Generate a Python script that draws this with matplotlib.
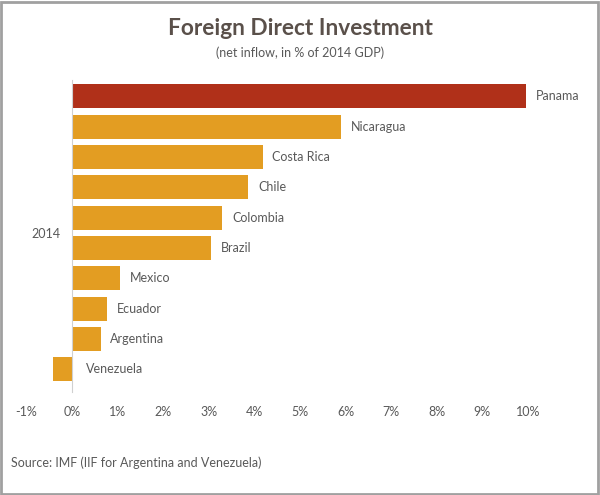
import matplotlib.pyplot as plt
from matplotlib.patches import Rectangle

# data
countries = ['Panama', 'Nicaragua', 'Costa Rica', 'Chile', 'Colombia',
             'Brazil', 'Mexico', 'Ecuador', 'Argentina', 'Venezuela']
fdi = [9.95, 5.9, 4.18, 3.87, 3.3, 3.05, 1.05, 0.77, 0.63, -0.42]
xticks = list(range(-1, 11))
xlabels = ['%d%%' % t for t in xticks]

plt.rcParams['font.family'] = ['Lato', 'DejaVu Sans']
txt = '#595959'
colors = ['#B03019'] + ['#E39D22'] * (len(countries) - 1)

fig = plt.figure(figsize=(6, 4.95), dpi=100)
ax = fig.add_axes([0.044, 0.208, 0.836, 0.630])

ypos = list(range(len(countries)))
ax.barh(ypos, fdi, height=0.79, color=colors)
ax.set_ylim(9.75, -0.53)
ax.set_xlim(-1, 10)

for y, v, name in zip(ypos, fdi, countries):
    ax.annotate(name, (max(v, 0), y), xytext=(7 if v > 0 else 10, 0),
                textcoords='offset points', va='center', ha='left',
                fontsize=9, color=txt)

for s in ['top', 'right', 'bottom']:
    ax.spines[s].set_visible(False)
ax.spines['left'].set_position(('data', 0))
ax.spines['left'].set_color('#d0d0d0')
ax.set_yticks([])
ax.set_xticks(xticks)
ax.set_xticklabels(xlabels, fontsize=9, color=txt)
ax.tick_params(axis='x', length=0, pad=10)

fig.text(0.077, 0.528, '2014', fontsize=9, color=txt, ha='center', va='center')
fig.text(0.5, 0.943, 'Foreign Direct Investment', fontsize=16.3, fontweight='bold',
         color='#5a504a', ha='center', va='center')
fig.text(0.5, 0.893, '(net inflow, in % of 2014 GDP)', fontsize=9, color=txt,
         ha='center', va='center')
fig.text(0.018, 0.065, 'Source: IMF (IIF for Argentina and Venezuela)', fontsize=9,
         color=txt, ha='left', va='center')

fig.patches.append(Rectangle((0.002, 0.002), 0.994, 0.994, transform=fig.transFigure,
                             fill=False, edgecolor='#a0a0a0', linewidth=2))

fig.savefig('out.png', dpi=100, facecolor='white')
